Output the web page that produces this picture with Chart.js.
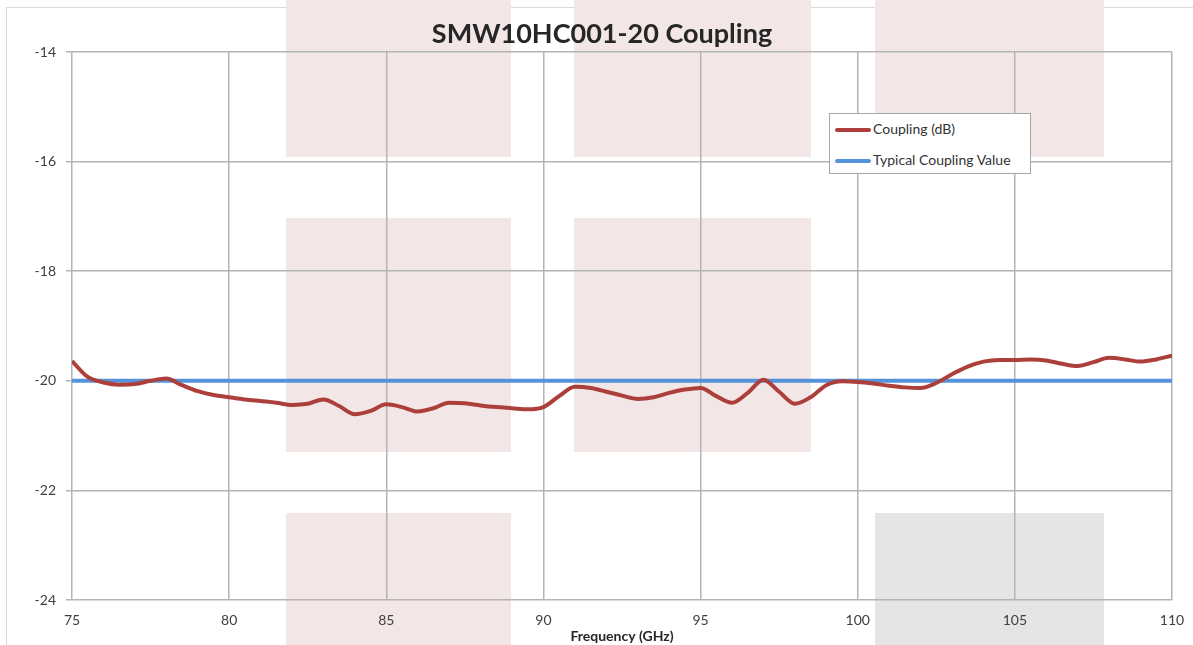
<!DOCTYPE html>
<html>
<head>
<meta charset="utf-8">
<script src="https://cdn.jsdelivr.net/npm/chart.js@4/dist/chart.umd.min.js"></script>
<style>
  html, body { margin: 0; padding: 0; background: #fff; }
  #wrap { position: relative; width: 1193px; height: 645px; overflow: hidden; }
  #titulo {
    position: absolute; left: 0; top: 17px; width: 1204px; height: 32px; line-height: 32px;
    text-align: center; font-family: Lato, "Open Sans", sans-serif; font-weight: bold;
    font-size: 27px; color: #262626;
  }
  #legend {
    position: absolute; left: 829px; top: 113px; width: 202px; height: 61px;
    background: #fff; border: 1px solid #a6a6a6; box-sizing: border-box;
    font-family: Lato, "Open Sans", sans-serif; font-size: 14px; color: #333;
  }
  #legend div { position: absolute; left: 5px; height: 18px; line-height: 18px; white-space: nowrap; }
  #legend span { display: inline-block; width: 36px; height: 4px; vertical-align: middle; margin-right: 2px; border-radius: 2px; }
</style>
</head>
<body>
<div id="wrap">
  <canvas id="chart" width="1193" height="645"></canvas>
  <div id="titulo"></div>
  <div id="legend"></div>
</div>
<script>
// ========== DADOS ==========
const frequencias = [
  75, 75.5, 76, 76.5, 77, 77.5, 78, 78.5, 79, 79.5,
  80, 80.5, 81, 81.5, 82, 82.5, 83, 83.5, 84, 84.5,
  85, 85.5, 86, 86.5, 87, 87.5, 88, 88.5, 89, 89.5,
  90, 90.5, 91, 91.5, 92, 92.5, 93, 93.5, 94, 94.5,
  95, 95.5, 96, 96.5, 97, 97.5, 98, 98.5, 99, 99.5,
  100, 100.5, 101, 101.5, 102, 102.5, 103, 103.5, 104, 104.5,
  105, 105.5, 106, 106.5, 107, 107.5, 108, 108.5, 109, 109.5, 110
];
const acoplamento = [
  -19.64, -19.93, -20.03, -20.07, -20.06, -20.00, -19.96, -20.08, -20.19, -20.26,
  -20.30, -20.34, -20.37, -20.40, -20.44, -20.42, -20.34, -20.46, -20.61, -20.55,
  -20.43, -20.48, -20.56, -20.50, -20.40, -20.41, -20.45, -20.48, -20.50, -20.52,
  -20.48, -20.28, -20.11, -20.13, -20.20, -20.27, -20.33, -20.30, -20.22, -20.16,
  -20.13, -20.28, -20.40, -20.22, -19.98, -20.20, -20.42, -20.30, -20.08, -20.01,
  -20.02, -20.05, -20.09, -20.12, -20.13, -20.04, -19.88, -19.74, -19.65, -19.62,
  -19.62, -19.61, -19.63, -19.69, -19.73, -19.66, -19.58, -19.61, -19.65, -19.61, -19.54
];
const tipicoFreq = [75, 110];
const tipicoValor = [-20, -20];

const nomesSeries = ['Coupling (dB)', 'Typical Coupling Value'];
const coresSeries = ['#ad3f3b', '#5592dc'];

const titulo = 'SMW10HC001-20 Coupling';
const tituloEixoX = 'Frequency (GHz)';

// marca d'água de fundo (decoração, em pixels)
const marcaDagua = [
  [286, 0, 225, 157, '#f3e6e6'], [574, 0, 237, 157, '#f3e6e6'], [875, 0, 229, 157, '#f3e6e6'],
  [286, 218, 225, 234, '#f3e6e6'], [574, 218, 237, 234, '#f3e6e6'],
  [286, 513, 225, 132, '#f3e6e6'], [875, 513, 229, 132, '#e5e5e5']
];

const fundoPlugin = {
  id: 'fundo',
  beforeDraw(chart) {
    const ctx = chart.ctx;
    ctx.save();
    ctx.strokeStyle = '#d9d9d9';
    ctx.lineWidth = 1;
    ctx.strokeRect(6.5, 7.5, 1300, 700);
    marcaDagua.forEach(([x, y, w, h, c]) => {
      ctx.fillStyle = c;
      ctx.fillRect(x, y, w, h);
    });
    ctx.restore();
  }
};

const pontos = (xs, ys) => xs.map((x, i) => ({ x: x, y: ys[i] }));

const fonte = 'Lato, "Open Sans", sans-serif';

new Chart(document.getElementById('chart').getContext('2d'), {
  type: 'line',
  data: {
    datasets: [{
      label: nomesSeries[0],
      data: pontos(frequencias, acoplamento),
      borderColor: coresSeries[0],
      borderWidth: 4,
      pointRadius: 0,
      tension: 0.4,
      cubicInterpolationMode: 'monotone',
      fill: false
    }, {
      label: nomesSeries[1],
      data: pontos(tipicoFreq, tipicoValor),
      borderColor: coresSeries[1],
      borderWidth: 4,
      pointRadius: 0,
      fill: false
    }]
  },
  options: {
    responsive: false,
    animation: false,
    layout: { padding: { left: 0, right: 21, top: 52, bottom: 0 } },
    plugins: {
      legend: { display: false },
      tooltip: { enabled: false },
      title: { display: false }
    },
    scales: {
      x: {
        type: 'linear',
        min: 75, max: 110,
        border: { display: false },
        grid: { color: '#b4b4b4', lineWidth: 1.5, drawTicks: false },
        ticks: { stepSize: 5, padding: 12, color: '#404040', font: { size: 14, family: fonte } },
        title: {
          display: true, text: tituloEixoX, color: '#262626',
          font: { size: 14, weight: 'bold', family: fonte }, padding: 0
        },
        afterFit(scale) {
          scale.height = 45;
          scale.paddingLeft = 0;
          scale.paddingRight = 0;
        }
      },
      y: {
        min: -24, max: -14,
        border: { display: false },
        grid: { color: '#b4b4b4', lineWidth: 1.5, tickLength: 6 },
        ticks: { stepSize: 2, padding: 10, color: '#404040', font: { size: 14, family: fonte } },
        afterFit(scale) {
          scale.width = 72;
          scale.paddingTop = 0;
          scale.paddingBottom = 0;
        }
      }
    }
  },
  plugins: [fundoPlugin]
});

document.getElementById('titulo').textContent = titulo;

// legenda em HTML
const legenda = document.getElementById('legend');
nomesSeries.forEach((nome, i) => {
  const item = document.createElement('div');
  item.style.top = (6 + i * 31) + 'px';
  item.innerHTML = '<span style="background:' + coresSeries[i] + '"></span>' + nome;
  legenda.appendChild(item);
});
</script>
</body>
</html>
